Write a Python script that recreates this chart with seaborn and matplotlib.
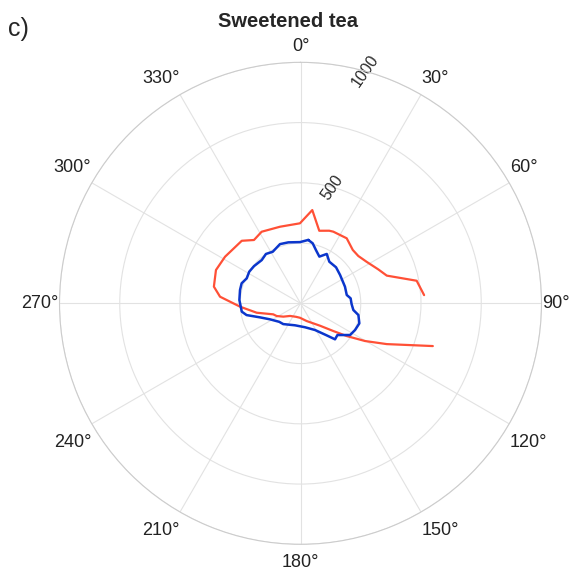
import numpy as np
import pandas as pd
import matplotlib
matplotlib.use("Agg")
import matplotlib.pyplot as plt
import matplotlib.transforms as mtransforms
import seaborn as sns

# Angles in degrees (clockwise from north), radius in data units
red_theta = [107.9, 115.3, 120.3, 125.3, 130.2, 139.0, 160.7, 182.0, 198.6, 219.6,
             232.1, 241.9, 248.0, 257.9, 266.8, 274.7, 280.9, 291.5, 301.7, 316.8,
             323.7, 331.5, 345.0, 359.6, 367.2, 374.5, 381.6, 384.6, 395.4, 404.4,
             410.7, 417.9, 426.4, 432.2, 439.0, 446.2]
red_r = [577, 396, 310, 235, 178, 123, 78, 60, 59, 68,
         90, 112, 122, 186, 251, 335, 366, 377, 368, 356,
         326, 338, 329, 332, 390, 311, 324, 327, 331, 310,
         310, 324, 352, 376, 491, 514]

blue_theta = [7.0, 11.5, 16.2, 22.0, 28.0, 34.7, 44.6, 54.4, 69.5, 79.8,
              84.3, 90.8, 97.2, 101.4, 108.8, 116.1, 122.6, 130.7, 136.2, 140.7,
              151.5, 169.4, 194.0, 219.7, 229.0, 242.3, 250.9, 257.7, 261.9, 273.1,
              282.4, 288.8, 294.9, 301.7, 308.7, 318.1, 325.0, 331.7, 340.9, 348.7,
              359.5, 367.0]
blue_r = [265, 254, 230, 209, 232, 210, 210, 202, 197, 195,
          209, 212, 221, 245, 258, 252, 244, 202, 207, 172,
          126, 101, 94, 112, 117, 143, 178, 229, 246, 254,
          257, 258, 246, 250, 247, 241, 250, 243, 260, 258,
          254, 265]

r_ticks = [250, 500, 750, 1000]
r_labels = ["", "500", "", "1000"]
theta_ticks = list(range(0, 360, 30))
theta_labels = [f"{t}°" for t in theta_ticks]

red_df = pd.DataFrame({"theta": np.deg2rad(red_theta), "r": red_r})
blue_df = pd.DataFrame({"theta": np.deg2rad(blue_theta), "r": blue_r})

sns.set_theme(style="white")
plt.rcParams["font.family"] = ["Liberation Sans", "DejaVu Sans"]

fig = plt.figure(figsize=(5.77, 5.76), dpi=100)
ax = fig.add_axes([0.1031, 0.055, 0.8354, 0.8368], projection="polar")
ax.set_theta_zero_location("N")
ax.set_theta_direction(-1)

sns.lineplot(data=red_df, x="theta", y="r", sort=False, estimator=None,
             color="#ff5036", linewidth=1.6, ax=ax)
sns.lineplot(data=blue_df, x="theta", y="r", sort=False, estimator=None,
             color="#0b36cc", linewidth=1.8, ax=ax)

ax.set_xlabel("")
ax.set_ylabel("")
ax.set_ylim(0, 1000)
ax.set_yticks(r_ticks)
ax.set_yticklabels(r_labels, fontsize=11.5, color="#2a2a2a")
ax.set_rlabel_position(15.5)
ax.tick_params(axis="y", labelrotation=55, size=0)
for lbl in ax.get_yticklabels():
    lbl.set_ha("center")
    lbl.set_va("center")

ax.set_xticks(np.deg2rad(theta_ticks))
ax.set_xticklabels(theta_labels, fontsize=13, color="#222222")
ax.tick_params(axis="x", pad=-6.8, size=0)
# anchor each angle label by its edge nearest the circle, with more room vertically
for t, tick in zip(theta_ticks, ax.xaxis.get_major_ticks()):
    s, c = np.sin(np.deg2rad(t)), np.cos(np.deg2rad(t))
    ha = "left" if s > 0.01 else ("right" if s < -0.01 else "center")
    va = "baseline" if c > 0.01 else ("top" if c < -0.01 else "center")
    dy = 0.11 if c > 0.01 else (-0.095 if c < -0.01 else 0)
    tick.label1.set_ha(ha)
    tick.label1.set_va(va)
    tick.label1.set_transform(tick.label1.get_transform()
                              + mtransforms.ScaledTranslation(0, dy, fig.dpi_scale_trans))

ax.grid(True, color="#e2e2e2", linewidth=0.8)
ax.spines["polar"].set_color("#cccccc")
ax.spines["polar"].set_linewidth(0.8)

fig.text(0.5, 0.963, "Sweetened tea", ha="center", va="center",
         fontsize=14.5, fontweight="bold")
fig.text(0.014, 0.95, "c)", ha="left", va="center", fontsize=18)

fig.savefig("out.png", dpi=100)
